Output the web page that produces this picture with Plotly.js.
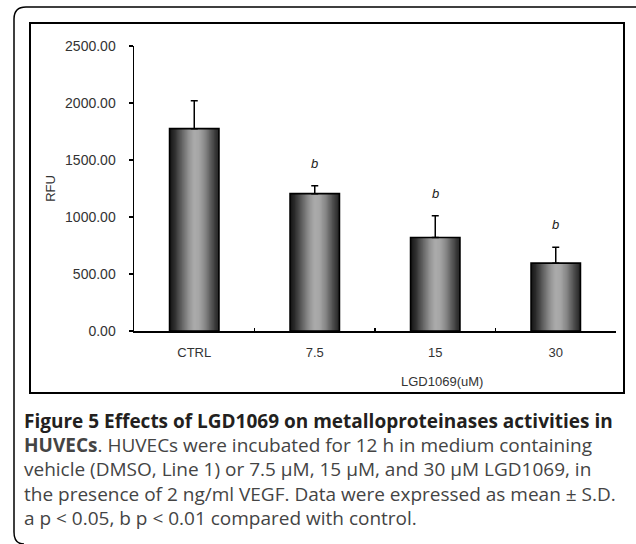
<!DOCTYPE html>
<html>
<head>
<meta charset="utf-8">
<script src="https://cdn.plot.ly/plotly-3.0.1.min.js"></script>
<style>html,body{margin:0;padding:0;background:#fff;}#chart{width:636px;height:544px;}</style>
</head>
<body>
<div id="chart"></div>
<script>
// ---- data ----
const categories = ['CTRL', '7.5', '15', '30'];
const rfuMean = [1775, 1205, 820, 595];
const rfuSD = [245, 70, 192, 140];
const sigLabels = ['', 'b', 'b', 'b'];
const yTickVals = [0, 500, 1000, 1500, 2000, 2500];
const xAxisLabel = 'LGD1069(uM)';
const yAxisLabel = 'RFU';
const captionLines = [
  '<b>Figure 5 Effects of LGD1069 on metalloproteinases activities in</b>',
  '<b>HUVECs</b>. HUVECs were incubated for 12 h in medium containing',
  'vehicle (DMSO, Line 1) or 7.5 µM, 15 µM, and 30 µM LGD1069, in',
  'the presence of 2 ng/ml VEGF. Data were expressed as mean ± S.D.',
  'a p &lt; 0.05, b p &lt; 0.01 compared with control.'
];

// ---- layout geometry (pixels) ----
const M = {l: 134, r: 20, t: 46, b: 213};
const W = 636 - M.l - M.r, H = 544 - M.t - M.b;
const px = v => (v - M.l) / W;
const py = v => (544 - M.b - v) / H;

// cylinder-like gradient stops (fraction across bar, grey level)
const stops = [[0, 20], [0.1, 45], [0.25, 100], [0.4, 150], [0.5, 172], [0.6, 165], [0.72, 135], [0.85, 85], [0.95, 50], [1, 35]];
function grey(f) {
  for (let i = 1; i < stops.length; i++) {
    if (f <= stops[i][0]) {
      const a = stops[i - 1], b = stops[i];
      const t = (f - a[0]) / (b[0] - a[0]);
      const g = Math.round(a[1] + t * (b[1] - a[1]));
      return 'rgb(' + g + ',' + g + ',' + g + ')';
    }
  }
  return 'rgb(35,35,35)';
}

const barW = 0.41;
const N = 40;
const traces = [];
for (let i = 0; i < N; i++) {
  // each strip runs from its own start to the bar's right edge; the next strip covers the rest
  traces.push({
    type: 'bar', x: categories, y: rfuMean,
    width: barW - i * barW / N, offset: -barW / 2 + i * barW / N,
    marker: {color: grey((i + 0.5) / N), line: {width: 0}},
    hoverinfo: 'skip', showlegend: false
  });
}
traces.push({
  type: 'bar', x: categories, y: rfuMean,
  width: barW, offset: -barW / 2,
  marker: {color: 'rgba(0,0,0,0)', line: {color: '#000', width: 1.6}},
  error_y: {type: 'data', symmetric: false, array: rfuSD, arrayminus: rfuSD.map(() => 0),
            color: '#000', thickness: 1.5, width: 3.5},
  showlegend: false
});

const annotations = [];
categories.forEach((c, i) => {
  if (sigLabels[i]) {
    annotations.push({x: i, y: rfuMean[i] + rfuSD[i], xref: 'x', yref: 'y', text: '<i>' + sigLabels[i] + '</i>',
      showarrow: false, yanchor: 'bottom', yshift: 13, font: {family: 'Liberation Sans, Arial', size: 13, color: '#222'}});
  }
});
annotations.push({x: px(442), y: py(381), xref: 'paper', yref: 'paper', text: xAxisLabel, showarrow: false,
  xanchor: 'center', yanchor: 'middle', font: {family: 'Liberation Sans, Arial', size: 13, color: '#333'}});
const capY = [421, 445, 469, 494, 518];
captionLines.forEach((t, i) => {
  annotations.push({x: px(22), y: py(capY[i]), xref: 'paper', yref: 'paper', text: t, showarrow: false,
    xanchor: 'left', yanchor: 'middle', align: 'left',
    font: {family: 'Open Sans, Noto Sans, sans-serif', size: 19, color: i === 0 ? '#231f20' : '#444'}});
});

const shapes = [
  {type: 'rect', xref: 'paper', yref: 'paper', x0: px(30), x1: px(624), y0: py(23), y1: py(393),
   line: {color: '#000', width: 2}, fillcolor: 'rgba(0,0,0,0)'},
  {type: 'path', xref: 'paper', yref: 'paper',
   path: 'M ' + px(640) + ' ' + py(7) + ' L ' + px(26) + ' ' + py(7) +
         ' Q ' + px(14) + ' ' + py(7) + ' ' + px(14) + ' ' + py(19) +
         ' L ' + px(14) + ' ' + py(532) +
         ' Q ' + px(14) + ' ' + py(544) + ' ' + px(24) + ' ' + py(544),
   line: {color: '#000', width: 1.5}}
];

const layout = {
  width: 636, height: 544,
  margin: M,
  paper_bgcolor: '#fff', plot_bgcolor: '#fff',
  barmode: 'overlay',
  font: {family: 'Liberation Sans, Arial, sans-serif', size: 12, color: '#333'},
  xaxis: {type: 'category', range: [-0.5, 3.5], showline: true, linecolor: '#000', linewidth: 1.5,
    ticks: 'inside', ticklen: 3, tickcolor: '#000', tickwidth: 1.5, tickson: 'boundaries',
    showgrid: false, zeroline: false, ticklabelstandoff: 9,
    tickfont: {size: 13, color: '#333'}},
  yaxis: {range: [0, 2500], tickvals: yTickVals, tickformat: '.2f', showline: true, linecolor: '#000', linewidth: 1.5,
    ticks: 'outside', ticklen: 4, tickcolor: '#000', tickwidth: 1.5, showgrid: false, zeroline: false,
    ticklabelstandoff: 10, tickfont: {size: 14, color: '#333'},
    title: {text: yAxisLabel, standoff: 6, font: {size: 13, color: '#333'}}},
  annotations: annotations,
  shapes: shapes
};

Plotly.newPlot('chart', traces, layout, {staticPlot: true});
</script>
</body>
</html>
